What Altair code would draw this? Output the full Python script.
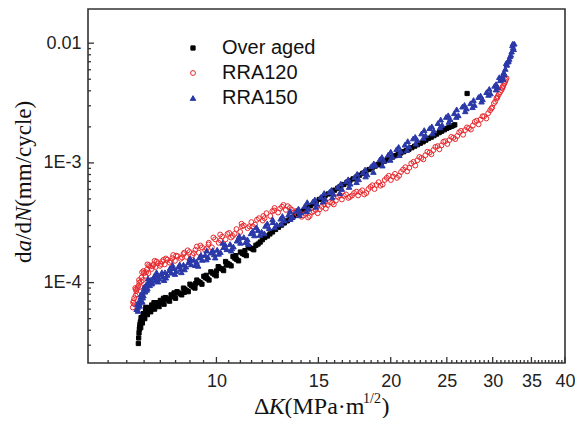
import altair as alt
import pandas as pd

series_names = ["Over aged", "RRA120", "RRA150"]
series_stroke = ["#000000", "#e8282d", "#2b38a8"]
series_fill = ["#000000", "transparent", "#2b38a8"]
series_shape = ["square", "circle", "triangle-up"]
series_size = [18, 30, 34]

# (ΔK [MPa·m^1/2], da/dN [mm/cycle])
over_aged = [
    (7.33, 3.1e-5), (7.34, 3.45e-5), (7.36, 4.1e-5), (7.38, 4.5e-5), (7.40, 4.2e-5),
    (7.42, 4.9e-5), (7.45, 4.6e-5), (7.48, 5.3e-5), (7.52, 5.0e-5), (7.56, 5.6e-5),
    (7.60, 5.4e-5), (7.65, 6.0e-5), (7.70, 5.7e-5), (7.76, 6.3e-5), (7.82, 6.0e-5),
    (7.89, 6.6e-5), (7.96, 6.3e-5), (8.04, 6.9e-5), (8.12, 6.6e-5), (8.21, 7.3e-5),
    (8.30, 7.0e-5), (8.40, 7.7e-5), (8.50, 7.4e-5), (8.60, 8.2e-5), (8.71, 7.9e-5),
    (8.82, 8.8e-5), (8.94, 8.4e-5), (9.06, 9.4e-5), (9.18, 9.0e-5), (9.31, 1.02e-4),
    (9.44, 9.7e-5), (9.57, 1.1e-4), (9.71, 1.05e-4), (9.85, 1.2e-4), (9.99, 1.14e-4),
    (10.14, 1.32e-4), (10.29, 1.26e-4), (10.44, 1.45e-4), (10.60, 1.38e-4), (10.76, 1.6e-4),
    (10.92, 1.52e-4), (11.09, 1.75e-4), (11.26, 1.68e-4), (11.43, 1.95e-4), (11.60, 1.88e-4),
    (11.80, 2.1e-4), (12.00, 2.28e-4), (12.25, 2.45e-4), (12.50, 2.65e-4), (12.80, 2.9e-4),
    (13.10, 3.15e-4), (13.40, 3.4e-4), (13.70, 3.65e-4), (14.00, 3.9e-4), (14.35, 4.2e-4),
    (14.70, 4.55e-4), (15.05, 4.95e-4), (15.40, 5.3e-4), (15.80, 5.7e-4), (16.20, 6.15e-4),
    (16.60, 6.6e-4), (17.00, 7.1e-4), (17.45, 7.6e-4), (17.90, 8.2e-4), (18.35, 8.8e-4),
    (18.80, 9.4e-4), (19.25, 1.0e-3), (19.70, 1.06e-3), (20.15, 1.12e-3), (20.60, 1.18e-3),
    (21.05, 1.24e-3), (21.50, 1.3e-3), (22.00, 1.38e-3), (22.50, 1.46e-3), (23.00, 1.55e-3),
    (23.50, 1.64e-3), (24.00, 1.74e-3), (24.50, 1.84e-3), (25.00, 1.94e-3), (25.45, 2.02e-3),
    (25.80, 2.08e-3), (27.10, 3.8e-3),
]
over_aged_more = [
    (7.35, 3.8e-5), (7.37, 4.3e-5), (7.39, 4.7e-5), (7.41, 5.1e-5), (7.44, 4.8e-5),
    (7.47, 5.5e-5), (7.50, 5.2e-5), (7.54, 5.8e-5), (7.58, 5.5e-5), (7.63, 6.2e-5),
    (7.68, 5.9e-5), (7.73, 6.5e-5), (7.79, 6.1e-5), (7.86, 6.8e-5), (7.93, 6.5e-5),
    (8.00, 7.1e-5), (8.08, 6.8e-5), (8.17, 7.5e-5), (8.26, 7.2e-5), (8.35, 7.9e-5),
    (8.45, 7.6e-5), (8.55, 8.4e-5), (8.66, 8.1e-5), (8.77, 9.0e-5), (8.88, 8.6e-5),
    (9.00, 9.7e-5), (9.12, 9.2e-5), (9.25, 1.05e-4), (9.37, 1.0e-4), (9.51, 1.13e-4),
    (9.64, 1.08e-4), (9.78, 1.23e-4), (9.92, 1.17e-4), (10.07, 1.36e-4), (10.22, 1.30e-4),
    (10.37, 1.50e-4), (10.52, 1.42e-4), (10.68, 1.65e-4), (10.84, 1.56e-4), (11.00, 1.80e-4),
    (11.17, 1.72e-4), (11.35, 2.0e-4), (11.52, 1.92e-4), (11.70, 2.05e-4), (11.90, 2.18e-4),
    (12.12, 2.38e-4), (12.37, 2.55e-4), (12.65, 2.78e-4), (12.95, 3.02e-4), (13.25, 3.28e-4),
    (13.55, 3.52e-4), (13.85, 3.78e-4), (14.17, 4.05e-4), (14.52, 4.38e-4), (14.87, 4.75e-4),
    (15.22, 5.12e-4), (15.60, 5.5e-4), (16.00, 5.92e-4), (16.40, 6.38e-4), (16.80, 6.85e-4),
    (17.22, 7.35e-4), (17.67, 7.9e-4), (18.12, 8.5e-4), (18.57, 9.1e-4), (19.02, 9.7e-4),
    (19.47, 1.03e-3), (19.92, 1.09e-3), (20.37, 1.15e-3), (20.82, 1.21e-3), (21.27, 1.27e-3),
    (21.75, 1.34e-3), (22.25, 1.42e-3), (22.75, 1.5e-3), (23.25, 1.6e-3), (23.75, 1.69e-3),
    (24.25, 1.79e-3), (24.75, 1.89e-3), (25.22, 1.98e-3), (25.62, 2.05e-3),
    (7.55, 6.2e-5), (7.80, 6.8e-5), (8.10, 7.4e-5), (8.45, 8.2e-5), (8.80, 8.3e-5),
    (9.20, 9.8e-5), (9.60, 1.15e-4), (10.00, 1.25e-4), (10.40, 1.40e-4), (10.80, 1.68e-4),
    (11.20, 1.85e-4),
]

rra120 = [
    (7.17, 6.2e-5), (7.19, 7.0e-5), (7.22, 6.6e-5), (7.25, 7.8e-5), (7.27, 8.5e-5),
    (7.30, 8.0e-5), (7.33, 9.4e-5), (7.36, 1.0e-4), (7.39, 9.2e-5), (7.42, 1.1e-4),
    (7.46, 1.05e-4), (7.50, 1.2e-4), (7.54, 1.14e-4), (7.58, 1.28e-4), (7.63, 1.2e-4),
    (7.68, 1.36e-4), (7.73, 1.3e-4), (7.79, 1.42e-4), (7.85, 1.35e-4), (7.92, 1.45e-4),
    (7.99, 1.38e-4), (8.06, 1.5e-4), (8.14, 1.42e-4), (8.22, 1.55e-4), (8.30, 1.47e-4),
    (8.39, 1.6e-4), (8.48, 1.52e-4), (8.57, 1.66e-4), (8.67, 1.58e-4), (8.77, 1.73e-4),
    (8.87, 1.64e-4), (8.98, 1.8e-4), (9.09, 1.7e-4), (9.20, 1.88e-4), (9.32, 1.78e-4),
    (9.44, 1.97e-4), (9.56, 1.87e-4), (9.69, 2.08e-4), (9.82, 1.97e-4), (9.95, 2.3e-4),
    (10.09, 2.15e-4), (10.23, 2.42e-4), (10.37, 2.3e-4), (10.52, 2.6e-4), (10.67, 2.45e-4),
    (10.83, 2.8e-4), (10.99, 2.65e-4), (11.15, 3.0e-4), (11.32, 2.85e-4), (11.49, 3.2e-4),
    (11.66, 3.05e-4), (11.84, 3.45e-4), (12.02, 3.3e-4), (12.20, 3.8e-4), (12.39, 3.6e-4),
    (12.58, 4.0e-4), (12.78, 3.85e-4), (12.98, 4.3e-4), (13.18, 4.05e-4), (13.39, 4.2e-4),
    (13.60, 3.85e-4), (13.82, 3.7e-4), (14.04, 3.55e-4), (14.26, 3.8e-4), (14.49, 3.6e-4),
    (14.72, 3.95e-4), (14.96, 3.8e-4), (15.20, 4.3e-4), (15.45, 4.15e-4), (15.70, 4.7e-4),
    (15.95, 4.5e-4), (16.21, 5.2e-4), (16.47, 4.95e-4), (16.74, 5.45e-4), (17.01, 5.2e-4),
    (17.29, 5.6e-4), (17.57, 5.35e-4), (17.86, 5.9e-4), (18.15, 5.6e-4), (18.45, 6.3e-4),
    (18.75, 6.05e-4), (19.06, 6.9e-4), (19.37, 6.6e-4), (19.69, 7.5e-4), (20.01, 7.2e-4),
    (20.34, 8.1e-4), (20.67, 7.8e-4), (21.01, 8.8e-4), (21.35, 8.5e-4), (21.70, 9.9e-4),
    (22.05, 9.5e-4), (22.41, 1.12e-3), (22.77, 1.07e-3), (23.14, 1.24e-3), (23.51, 1.18e-3),
    (23.89, 1.36e-3), (24.27, 1.3e-3), (24.66, 1.5e-3), (25.05, 1.44e-3), (25.45, 1.65e-3),
    (25.85, 1.58e-3), (26.26, 1.8e-3), (26.67, 1.72e-3), (27.09, 1.98e-3), (27.51, 1.9e-3),
    (27.94, 2.2e-3), (28.37, 2.1e-3), (28.81, 2.45e-3), (29.25, 2.35e-3), (29.70, 2.75e-3),
    (30.15, 3.15e-3), (30.45, 3.45e-3), (30.75, 3.75e-3), (31.05, 4.05e-3), (31.30, 4.4e-3),
    (31.55, 4.8e-3), (31.70, 5.1e-3),
]
rra120_more = [
    (7.18, 6.8e-5), (7.21, 7.4e-5), (7.26, 8.8e-5), (7.31, 9.0e-5), (7.35, 1.05e-4),
    (7.41, 1.02e-4), (7.48, 1.25e-4), (7.56, 1.22e-4), (7.65, 1.40e-4), (7.76, 1.37e-4),
    (7.88, 1.50e-4), (8.02, 1.43e-4), (8.18, 1.59e-4), (8.34, 1.52e-4), (8.52, 1.68e-4),
    (8.72, 1.62e-4), (8.92, 1.86e-4), (9.14, 1.76e-4), (9.38, 2.04e-4), (9.62, 1.93e-4),
    (9.88, 2.38e-4), (10.16, 2.25e-4), (10.45, 2.55e-4), (10.75, 2.55e-4), (11.07, 2.95e-4),
    (11.40, 2.95e-4), (11.75, 3.35e-4), (12.11, 3.45e-4), (12.49, 3.95e-4), (12.88, 4.15e-4),
    (13.28, 4.35e-4), (13.71, 3.95e-4), (14.15, 3.65e-4), (14.61, 3.85e-4), (15.08, 4.10e-4),
    (15.57, 4.45e-4), (16.08, 4.85e-4), (16.60, 5.30e-4), (17.15, 5.35e-4), (17.71, 5.70e-4),
    (18.30, 6.05e-4), (18.90, 6.55e-4), (19.53, 7.20e-4), (20.18, 7.70e-4), (20.84, 8.40e-4),
    (21.53, 9.10e-4), (22.23, 1.05e-3), (22.96, 1.16e-3), (23.70, 1.28e-3), (24.47, 1.40e-3),
    (25.25, 1.55e-3), (26.06, 1.68e-3), (26.88, 1.88e-3), (27.72, 2.05e-3), (28.59, 2.30e-3),
    (29.47, 2.60e-3), (29.95, 2.90e-3), (30.30, 3.25e-3), (30.60, 3.60e-3), (30.90, 3.90e-3),
    (31.18, 4.20e-3), (31.42, 4.60e-3),
    (7.24, 9.0e-5), (7.44, 1.22e-4), (7.60, 1.42e-4), (7.82, 1.52e-4), (8.10, 1.55e-4),
    (8.42, 1.70e-4), (8.80, 1.78e-4), (9.25, 2.00e-4), (9.70, 2.15e-4), (10.15, 2.52e-4),
    (10.60, 2.38e-4), (11.05, 3.10e-4), (11.55, 2.95e-4), (12.05, 3.60e-4), (12.60, 4.20e-4),
    (13.05, 4.45e-4), (13.50, 4.05e-4), (13.95, 3.80e-4), (14.40, 3.50e-4), (14.85, 4.05e-4),
    (15.35, 4.50e-4), (15.85, 4.65e-4), (16.35, 5.35e-4), (16.90, 5.10e-4), (17.45, 5.75e-4),
    (18.00, 5.45e-4), (18.60, 6.50e-4), (19.20, 6.45e-4), (19.85, 7.80e-4), (20.50, 7.50e-4),
    (21.20, 9.20e-4), (21.90, 1.02e-3), (22.60, 1.10e-3), (23.35, 1.22e-3), (24.10, 1.38e-3),
    (24.85, 1.52e-3), (25.65, 1.62e-3), (26.45, 1.85e-3), (27.30, 1.95e-3), (28.15, 2.25e-3),
    (29.00, 2.45e-3), (29.85, 2.85e-3), (30.55, 3.50e-3), (31.20, 4.30e-3), (31.60, 4.95e-3),
]

rra150 = [
    (7.28, 6.0e-5), (7.30, 6.6e-5), (7.32, 5.8e-5), (7.35, 7.0e-5), (7.37, 6.4e-5),
    (7.40, 7.6e-5), (7.42, 7.1e-5), (7.45, 8.2e-5), (7.48, 7.8e-5), (7.50, 8.9e-5),
    (7.53, 8.4e-5), (7.56, 9.6e-5), (7.60, 9.0e-5), (7.63, 1.0e-4), (7.67, 9.5e-5),
    (7.71, 1.06e-4), (7.75, 1.0e-4), (7.80, 1.1e-4), (7.85, 1.05e-4), (7.90, 1.14e-4),
    (7.96, 1.08e-4), (8.02, 1.17e-4), (8.08, 1.12e-4), (8.15, 1.22e-4), (8.22, 1.16e-4),
    (8.29, 1.27e-4), (8.36, 1.21e-4), (8.44, 1.32e-4), (8.52, 1.25e-4), (8.60, 1.36e-4),
    (8.68, 1.30e-4), (8.77, 1.41e-4), (8.86, 1.36e-4), (8.95, 1.48e-4), (9.04, 1.42e-4),
    (9.14, 1.55e-4), (9.24, 1.49e-4), (9.34, 1.62e-4), (9.45, 1.55e-4), (9.56, 1.70e-4),
    (9.67, 1.63e-4), (9.79, 1.78e-4), (9.91, 1.72e-4), (10.03, 1.88e-4), (10.16, 1.80e-4),
    (10.29, 1.98e-4), (10.42, 1.90e-4), (10.56, 2.10e-4), (10.70, 2.00e-4), (10.85, 2.24e-4),
    (11.00, 2.15e-4), (11.15, 2.40e-4), (11.31, 2.30e-4), (11.47, 2.58e-4), (11.63, 2.48e-4),
    (11.80, 2.75e-4), (11.97, 2.66e-4), (12.15, 2.98e-4), (12.33, 2.85e-4), (12.52, 3.20e-4),
    (12.71, 3.05e-4), (12.91, 3.42e-4), (13.11, 3.30e-4), (13.32, 3.70e-4), (13.53, 3.55e-4),
    (13.75, 3.98e-4), (13.97, 3.85e-4), (14.20, 4.35e-4), (14.43, 4.15e-4), (14.67, 4.75e-4),
    (14.91, 4.55e-4), (15.16, 5.20e-4), (15.41, 5.00e-4), (15.67, 5.70e-4), (15.93, 5.50e-4),
    (16.20, 6.30e-4), (16.47, 6.05e-4), (16.75, 7.00e-4), (17.03, 6.70e-4), (17.32, 7.60e-4),
    (17.61, 7.30e-4), (17.91, 8.30e-4), (18.21, 8.00e-4), (18.52, 9.40e-4), (18.83, 9.60e-4),
    (19.15, 1.07e-3), (19.47, 1.04e-3), (19.80, 1.17e-3), (20.13, 1.13e-3), (20.47, 1.30e-3),
    (20.81, 1.25e-3), (21.16, 1.42e-3), (21.51, 1.37e-3), (21.87, 1.60e-3), (22.23, 1.55e-3),
    (22.60, 1.76e-3), (22.97, 1.70e-3), (23.35, 1.95e-3), (23.74, 1.86e-3), (24.13, 2.15e-3),
    (24.53, 2.08e-3), (24.93, 2.42e-3), (25.34, 2.32e-3), (25.75, 2.60e-3), (26.17, 2.50e-3),
    (26.60, 2.95e-3), (27.03, 2.85e-3), (27.47, 3.15e-3), (27.91, 3.05e-3), (28.36, 3.55e-3),
    (28.82, 3.40e-3), (29.28, 3.90e-3), (29.75, 3.80e-3), (30.22, 4.40e-3), (30.60, 4.30e-3),
    (30.90, 4.90e-3), (31.15, 5.30e-3), (31.35, 5.70e-3), (31.55, 6.10e-3), (31.75, 6.60e-3),
    (31.95, 7.10e-3), (32.15, 7.80e-3), (32.35, 8.50e-3), (32.55, 9.20e-3), (32.70, 9.90e-3),
]
rra150_more = [
    (7.31, 6.2e-5), (7.36, 6.7e-5), (7.41, 8.0e-5), (7.46, 7.5e-5), (7.51, 9.3e-5),
    (7.58, 8.7e-5), (7.65, 1.04e-4), (7.73, 9.8e-5), (7.82, 1.15e-4), (7.93, 1.02e-4),
    (8.05, 1.22e-4), (8.18, 1.10e-4), (8.32, 1.33e-4), (8.48, 1.18e-4), (8.64, 1.42e-4),
    (8.81, 1.29e-4), (8.99, 1.55e-4), (9.19, 1.40e-4), (9.40, 1.70e-4), (9.61, 1.56e-4),
    (9.85, 1.87e-4), (10.09, 1.74e-4), (10.35, 2.08e-4), (10.63, 1.93e-4), (10.92, 2.35e-4),
    (11.23, 2.18e-4), (11.55, 2.70e-4), (11.88, 2.50e-4), (12.24, 3.12e-4), (12.61, 2.90e-4),
    (13.00, 3.60e-4), (13.42, 3.40e-4), (13.86, 4.15e-4), (14.31, 3.95e-4), (14.79, 4.95e-4),
    (15.28, 4.75e-4), (15.80, 5.95e-4), (16.33, 5.60e-4), (16.89, 7.30e-4), (17.46, 6.90e-4),
    (18.06, 8.80e-4), (18.67, 8.40e-4), (19.31, 1.12e-3), (19.96, 1.06e-3), (20.64, 1.36e-3),
    (21.33, 1.28e-3), (22.05, 1.65e-3), (22.78, 1.62e-3), (23.55, 2.02e-3), (24.33, 1.98e-3),
    (25.14, 2.50e-3), (25.96, 2.42e-3), (26.82, 3.05e-3), (27.69, 2.92e-3), (28.59, 3.65e-3),
    (29.51, 3.70e-3), (30.41, 4.55e-3), (31.05, 5.10e-3), (31.45, 5.50e-3), (31.85, 7.00e-3),
    (32.25, 8.00e-3), (32.45, 9.60e-3), (32.62, 8.90e-3),
    (7.45, 6.9e-5), (7.62, 1.08e-4), (7.88, 1.22e-4), (8.12, 1.05e-4), (8.40, 1.40e-4),
    (8.70, 1.22e-4), (9.00, 1.60e-4), (9.30, 1.38e-4), (9.62, 1.85e-4), (9.95, 1.62e-4),
    (10.25, 2.15e-4), (10.60, 1.85e-4), (10.95, 2.45e-4), (11.35, 2.10e-4), (11.72, 2.90e-4),
    (12.10, 2.58e-4), (12.50, 3.38e-4), (12.95, 3.10e-4), (13.40, 3.95e-4), (13.90, 3.65e-4),
    (14.35, 4.70e-4), (14.85, 4.30e-4), (15.35, 5.60e-4), (15.85, 5.15e-4), (16.40, 6.70e-4),
    (16.95, 6.30e-4), (17.50, 8.10e-4), (18.10, 7.70e-4), (18.70, 9.90e-4), (19.35, 9.50e-4),
    (20.00, 1.24e-3), (20.70, 1.16e-3), (21.40, 1.52e-3), (22.10, 1.45e-3), (22.85, 1.88e-3),
    (23.60, 1.76e-3), (24.40, 2.30e-3), (25.20, 2.20e-3), (26.00, 2.80e-3), (26.90, 2.70e-3),
    (27.80, 3.35e-3), (28.70, 3.25e-3), (29.60, 4.15e-3), (30.40, 4.10e-3), (30.80, 5.20e-3),
    (31.30, 5.00e-3), (31.65, 6.80e-3), (32.05, 7.40e-3), (32.50, 9.90e-3),
]

x_major = [10, 15, 20, 25, 30, 35, 40]
x_minor = [v / 2 for v in range(13, 80) if v % 10 != 0]
y_major = [1e-4, 1e-3, 1e-2]
y_minor = [m * 10.0 ** e for e in (-5, -4, -3) for m in range(2, 10) if 2.13e-5 < m * 10.0 ** e < 0.0193]

rows = []
for name, pts in zip(series_names, [over_aged + over_aged_more, rra120 + rra120_more, rra150 + rra150_more]):
    for dk, da in pts:
        rows.append({"series": name, "dk": dk, "da": da})
df = pd.DataFrame(rows)

W, H = 477, 354
FRAME = "#333333"
xscale = alt.Scale(type="log", domain=[6, 40], nice=False)
yscale = alt.Scale(type="log", domain=[2.13e-5, 0.0193], nice=False)
x_axis = alt.Axis(values=x_major, ticks=False, domain=False, grid=False, title=None,
                  labelFontSize=18, labelFont="Liberation Sans", labelColor="#222",
                  labelPadding=9, format="d", labelFlush=False)
y_axis = alt.Axis(values=y_major, ticks=False, domain=False, grid=False, title=None,
                  labelFontSize=18, labelFont="Liberation Sans", labelColor="#222",
                  labelPadding=7, labelFlush=False,
                  labelExpr="datum.value >= 0.005 ? '0.01' : '1E' + round(log(datum.value) / LN10)")


def sc(rng):
    return alt.Scale(domain=series_names, range=rng)


leg = alt.Legend(title=None)

points = alt.Chart(df).mark_point(opacity=1, strokeWidth=1).encode(
    x=alt.X("dk:Q", scale=xscale, axis=x_axis),
    y=alt.Y("da:Q", scale=yscale, axis=y_axis),
    shape=alt.Shape("series:N", scale=sc(series_shape), legend=leg),
    stroke=alt.Stroke("series:N", scale=sc(series_stroke), legend=leg),
    fill=alt.Fill("series:N", scale=sc(series_fill), legend=leg),
    size=alt.Size("series:N", scale=sc(series_size), legend=leg),
)


def tick_layer(vals, channel, length):
    d = pd.DataFrame({channel: vals})
    if channel == "dk":
        return alt.Chart(d).mark_rule(color=FRAME, strokeWidth=1.3).encode(
            x=alt.X("dk:Q", scale=xscale, axis=x_axis),
            y=alt.value(H), y2=alt.value(H - length))
    return alt.Chart(d).mark_rule(color=FRAME, strokeWidth=1.3).encode(
        y=alt.Y("da:Q", scale=yscale, axis=y_axis),
        x=alt.value(0), x2=alt.value(length))


one = pd.DataFrame({"t": [0]})


def txt(s, x, y, size=24, style="normal", angle=0, font="Liberation Serif"):
    return alt.Chart(one).mark_text(text=s, font=font, fontSize=size, fontStyle=style,
                                    align="left", baseline="alphabetic", angle=angle,
                                    color="#111").encode(x=alt.value(x), y=alt.value(y))


xt_y = 405
x0 = 166
x_title = [
    txt("Δ", x0, xt_y),
    txt("K", x0 + 14.7, xt_y, style="italic"),
    txt("(MPa·m", x0 + 30.5, xt_y),
    txt("1/2", x0 + 109, xt_y - 11, size=14),
    txt(")", x0 + 127.6, xt_y),
]
yt_x = -57
y_title = [
    txt("d", yt_x, 254, size=23, angle=270),
    txt("a", yt_x, 242.5, size=23, style="italic", angle=270),
    txt("/d", yt_x, 231, size=23, angle=270),
    txt("N", yt_x, 213.1, size=23, style="italic", angle=270),
    txt("(mm/cycle)", yt_x, 197.8, size=23, angle=270),
]

chart = alt.layer(
    points,
    tick_layer(x_major, "dk", 6), tick_layer(x_minor, "dk", 3),
    tick_layer(y_major, "da", 6), tick_layer(y_minor, "da", 3),
    *x_title, *y_title,
).properties(
    width=W, height=H,
    autosize=alt.AutoSizeParams(type="none"),
    padding={"left": 80, "top": 1, "right": 10, "bottom": 55},
).configure_view(stroke=FRAME, strokeWidth=1.6).configure_legend(
    orient="none", legendX=95, legendY=29, labelFont="Liberation Sans", labelFontSize=20,
    labelColor="#111", labelOffset=19, rowPadding=5, padding=0, symbolStrokeWidth=1,
)

chart.save("out.html", embed_options={"renderer": "svg", "actions": False})
